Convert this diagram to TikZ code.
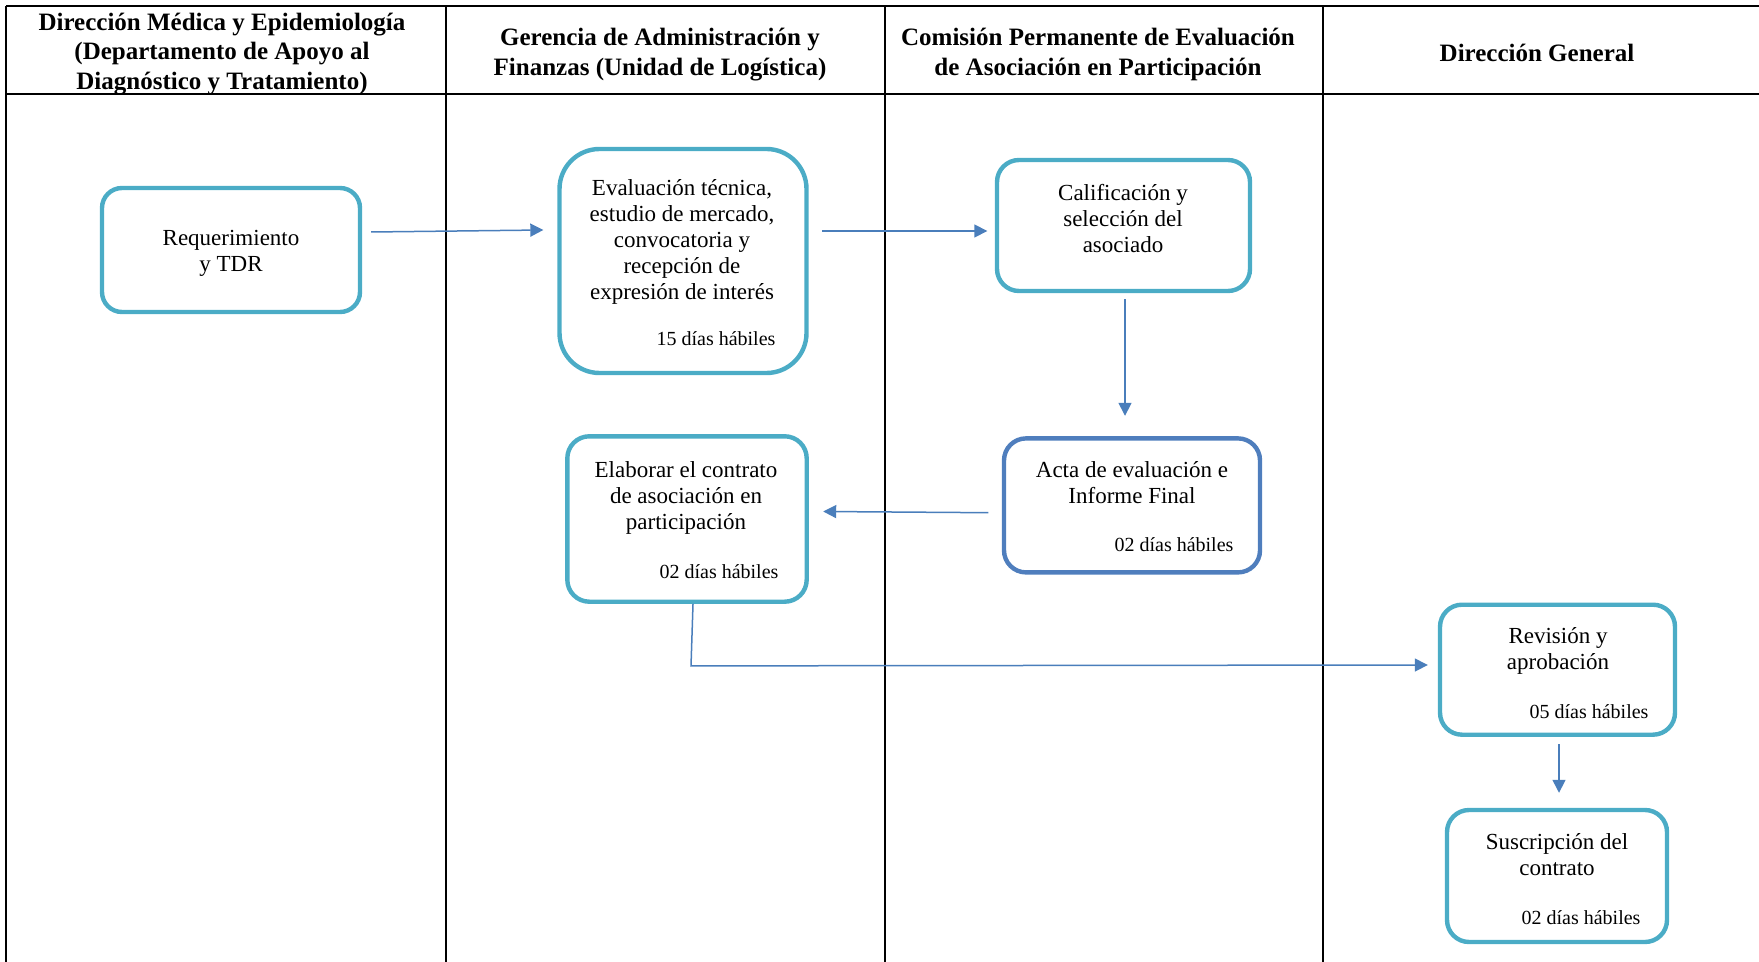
\documentclass[tikz,border=0pt]{standalone}
\usepackage{fontspec}
\setmainfont{Liberation Serif}
\usetikzlibrary{arrows.meta,calc}
\definecolor{tealb}{HTML}{4BACC6}
\definecolor{blueb}{HTML}{4F7EBD}
\definecolor{arrc}{HTML}{4A7EBB}
\begin{document}
\begin{tikzpicture}[x=0.5pt,y=-0.5pt,
 hline/.style={line width=1pt},
 vline/.style={line width=0.75pt},
 head/.style={font=\fontsize{12.5}{14.8}\selectfont\bfseries, align=center, inner sep=0pt},
 box/.style={draw=tealb, line width=2.2pt, rounded corners=11pt, inner sep=0pt},
 btext/.style={font=\fontsize{11.5}{13}\selectfont, align=center, inner sep=0pt},
 days/.style={font=\fontsize{10}{12}\selectfont, inner sep=0pt},
 arr/.style={draw=arrc, line width=0.75pt, -{Triangle[length=6.5pt,width=6.5pt]}}]
\useasboundingbox (0,0) rectangle (1759,962);

% grid
\draw[hline] (6,6) -- (1759,6);
\draw[hline] (6,94) -- (1759,94);
\draw[vline] (6,6) -- (6,962);
\draw[vline] (446,6) -- (446,962);
\draw[vline] (885,6) -- (885,962);
\draw[vline] (1323,6) -- (1323,962);

% headers
\node[head] (h1) at (222,54) {Dirección Médica y Epidemiología\\(Departamento de Apoyo al\\Diagnóstico y Tratamiento)};
\node[head] (h2) at (660,54.5) {Gerencia de Administración y\\Finanzas (Unidad de Logística)};
\node[head] (h3) at (1098,54.5) {Comisión Permanente de Evaluación\\de Asociación en Participación};
\node[head] (h4) at (1537,53) {Dirección General};

% boxes
\node[box, minimum width=129pt, minimum height=62pt, rounded corners=10pt] (b1) at (231,250) {};
\node[box, minimum width=123.5pt, minimum height=112pt, rounded corners=20pt] (b2) at (683,261) {};
\node[box, minimum width=126.5pt, minimum height=65.5pt] (b3) at (1123.5,225.5) {};
\node[box, draw=blueb, minimum width=128pt, minimum height=67pt] (b4) at (1132,505.4) {};
\node[box, minimum width=119.7pt, minimum height=82.7pt] (b5) at (687,519) {};
\node[box, minimum width=117.5pt, minimum height=65pt] (b6) at (1557.5,669.7) {};
\node[box, minimum width=110pt, minimum height=66pt] (b7) at (1557,876) {};

% box texts
\node[btext] (t1) at (231,253.5) {Requerimiento\\y TDR};
\node[btext] (t2) at (682,242) {Evaluación técnica,\\estudio de mercado,\\convocatoria y\\recepción de\\expresión de interés};
\node[days] (d2) at (716,339) {15 días hábiles};
\node[btext] (t3) at (1123,218.5) {Calificación y\\selección del\\asociado};
\node[btext] (t4) at (1132,483) {Acta de evaluación e\\Informe Final};
\node[days] (d4) at (1174,545) {02 días hábiles};
\node[btext] (t5) at (686,498) {Elaborar el contrato\\de asociación en\\participación};
\node[days] (d5) at (719,572) {02 días hábiles};
\node[btext] (t6) at (1558,650.5) {Revisión y\\aprobación};
\node[days] (d6) at (1589,712) {05 días hábiles};
\node[btext] (t7) at (1557,855) {Suscripción del\\contrato};
\node[days] (d7) at (1581,918) {02 días hábiles};

% connectors
\draw[arr] ($(b1.east)+(9,-18)$) -- ($(b2.west)+(-14,-31)$);
\draw[arr] ($(b2.east)+(13.5,-30)$) -- ($(b3.west)+(-7.5,5.5)$);
\draw[arr] ($(b3.south)+(1.5,6)$) -- ($(b4.north)+(-7,-20.4)$);
\draw[arr] ($(b4.west)+(-13.5,7.3)$) -- ($(b5.east)+(14.3,-7.5)$);
\draw[arr] ($(b5.south)+(6,0)$) -- ++(-2,62) -- ($(b6.west)+(-10,-4.7)$);
\draw[arr] ($(b6.south)+(1.5,7.3)$) -- ($(b7.north)+(2,-15)$);
\end{tikzpicture}
\end{document}
